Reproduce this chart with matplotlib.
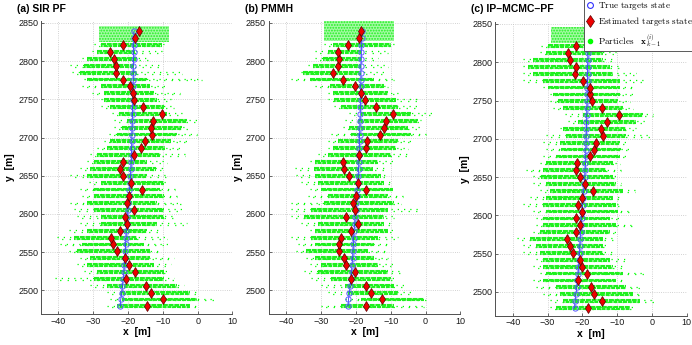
import matplotlib
matplotlib.use("Agg")
import matplotlib.pyplot as plt
from matplotlib.lines import Line2D
from matplotlib.patches import Rectangle
from matplotlib.transforms import ScaledTranslation

plt.rcParams['font.family'] = ['Liberation Sans', 'DejaVu Sans']
plt.rcParams['mathtext.fontset'] = 'cm'
plt.rcParams['hatch.linewidth'] = 0.9

# ---------------- data ----------------
y_rows = [2479, 2488, 2497, 2506, 2515, 2524, 2533, 2542, 2551, 2560, 2569, 2578,
          2587, 2596, 2605, 2614, 2623, 2632, 2641, 2650, 2659, 2668, 2677, 2686,
          2695, 2704, 2713, 2722, 2731, 2740, 2749, 2758, 2767, 2776, 2785, 2794,
          2803, 2812, 2821, 2830, 2839]

true_x = [-22.2, -22.1, -21.8, -21.6, -21.4, -21.2, -21.1, -20.9, -20.8, -20.7, -20.6,
          -20.5, -20.3, -20.2, -20.0, -19.9, -19.7, -19.6, -19.4, -19.3, -19.2, -19.1,
          -19.0, -19.0, -18.9, -18.9, -18.8, -18.8, -18.7, -18.7, -18.6, -18.6, -18.6,
          -18.5, -18.5, -18.5, -18.4, -18.4, -18.4, -18.3, -18.3]

est_a = [-14.5, -10.0, -13.4, -14.7, -20.5, -17.9, -19.8, -21.0, -23.3, -24.3, -24.8,
         -22.2, -20.2, -20.9, -18.4, -20.2, -19.6, -16.0, -19.2, -21.4, -22.2, -21.4,
         -18.3, -16.2, -15.0, -13.2, -13.4, -12.9, -10.3, -15.8, -18.4, -18.7, -19.5,
         -21.4, -23.4, -23.6, -24.1, -25.1, -21.5, -17.9, -16.9]
est_b = [-17.0, -12.5, -15.7, -17.0, -21.5, -20.3, -22.9, -23.5, -24.7, -24.7, -24.2,
         -21.5, -19.5, -22.9, -20.1, -20.9, -20.0, -17.0, -19.4, -22.0, -23.4, -23.7,
         -19.2, -17.1, -16.7, -13.2, -11.9, -11.4, -9.3, -14.3, -17.3, -18.4, -20.1,
         -23.6, -26.5, -25.1, -24.7, -25.0, -22.2, -19.0, -18.4]
est_c = [-18.3, -14.3, -16.5, -17.4, -21.3, -18.7, -20.1, -20.7, -22.7, -23.4, -24.3,
         -21.9, -20.7, -21.7, -20.2, -21.1, -20.0, -17.0, -19.1, -20.7, -21.9, -21.4,
         -17.9, -16.5, -16.1, -14.0, -14.5, -13.0, -9.5, -14.4, -17.2, -17.8, -17.7,
         -19.7, -22.1, -21.8, -23.5, -24.0, -21.7]

# particle clouds per row (rows 2479..2821): dense core and sparse outer extent
core_lo_a = [-23.1, -21.7, -22.2, -26.0, -29.8, -28.9, -31.8, -30.8, -34.6, -33.2, -35.6, -31.8, -27.9,
             -27.9, -29.8, -31.8, -29.8, -29.8, -27.9, -31.8, -31.0, -29.8, -28.9, -26.0, -25.1, -23.1,
             -21.7, -20.3, -22.7, -25.1, -27.0, -27.0, -27.9, -31.8, -33.7, -32.7, -31.8, -28.9, -27.9]
core_hi_a = [-2.1, -0.2, -2.1, -5.9, -9.7, -9.7, -12.6, -13.6, -13.6, -15.5, -17.4, -14.5, -11.6,
             -9.7, -9.7, -11.6, -9.7, -10.7, -9.7, -14.5, -12.0, -14.5, -10.7, -9.3, -7.8, -5.9,
             -4.5, -3.0, -8.8, -9.7, -11.6, -12.6, -13.6, -14.5, -17.4, -18.4, -17.4, -17.9, -10.2]
out_lo_a = [-26.0, -25.1, -26.0, -30.8, -40.9, -32.7, -34.6, -33.7, -37.0, -39.4, -40.4, -37.0, -33.7,
            -34.6, -35.6, -36.6, -33.2, -33.7, -31.3, -36.6, -33.7, -31.8, -30.8, -28.9, -27.0, -25.5,
            -24.1, -24.1, -24.6, -27.9, -27.9, -30.3, -33.2, -32.7, -36.1, -36.6, -33.2, -30.3, -29.8]
out_hi_a = [-0.2, 5.1, -0.2, -4.0, -6.9, -8.8, -7.8, -6.9, -10.7, -8.3, -8.8, -10.7, -3.0,
            -5.9, -4.5, -4.9, -5.9, -6.4, -8.8, -8.8, -10.0, -8.8, -3.5, -4.5, -2.1, -0.2,
            -2.5, -0.2, -4.0, -6.9, -7.8, -5.0, -8.3, 1.3, -4.5, -10.7, -13.6, -10.2, -9.3]

core_lo_b = [-24.2, -18.5, -22.3, -23.2, -27.0, -30.9, -29.9, -31.8, -34.2, -31.8, -32.8, -31.8, -30.9,
             -34.7, -32.8, -29.0, -28.0, -29.9, -30.9, -31.8, -32.0, -31.8, -28.0, -26.6, -25.1, -21.3,
             -21.8, -19.4, -18.5, -24.2, -26.1, -26.6, -27.5, -33.2, -35.1, -32.3, -29.4, -28.0, -26.6]
core_hi_b = [-9.0, -0.4, -8.0, -9.0, -9.9, -10.9, -13.7, -14.7, -16.6, -14.7, -13.7, -10.9, -11.8,
             -11.8, -10.9, -9.0, -10.9, -9.4, -11.8, -12.8, -15.0, -13.7, -9.9, -8.5, -8.0, -4.2,
             -5.1, -2.3, -4.2, -8.0, -8.5, -10.9, -11.8, -14.7, -18.5, -18.5, -18.5, -18.5, -9.9]
out_lo_b = [-30.0, -23.2, -28.0, -29.9, -32.8, -34.7, -33.2, -34.2, -37.0, -36.6, -38.5, -33.2, -35.6,
            -38.5, -38.5, -38.5, -33.7, -33.2, -35.6, -37.0, -37.5, -33.2, -30.9, -28.0, -28.0, -27.0,
            -23.7, -23.2, -21.8, -26.1, -28.0, -28.0, -31.8, -38.5, -35.6, -33.7, -31.8, -31.8, -29.0]
out_hi_b = [-0.4, 0.1, -3.7, -5.1, -8.0, -6.1, -9.0, -10.9, -10.9, -9.9, -8.0, -9.0, -9.0,
            -9.0, -2.3, -7.0, -6.6, -9.0, -9.4, -10.9, -10.9, -9.0, -4.2, -5.1, -3.2, 0.1,
            -1.3, -1.3, 3.0, -2.3, -2.3, -8.0, -10.9, -9.0, -10.9, -10.9, -13.7, -10.9, -8.5]

core_lo_c = [-27.5, -25.5, -26.5, -27.5, -31.3, -30.3, -31.3, -31.3, -32.2, -33.2, -35.1, -32.2, -31.3,
             -31.3, -30.3, -31.3, -30.3, -29.4, -30.3, -31.8, -31.3, -30.3, -27.5, -26.0, -26.5, -24.6,
             -25.5, -21.2, -19.8, -25.5, -27.0, -28.4, -29.8, -31.3, -34.2, -35.6, -34.2, -30.3, -30.0]
core_hi_c = [-6.4, -3.5, -5.4, -7.3, -10.2, -8.3, -11.2, -12.1, -14.0, -14.0, -14.0, -12.1, -10.2,
             -12.1, -9.7, -10.2, -11.2, -8.3, -10.2, -11.2, -13.1, -11.2, -9.3, -8.8, -9.3, -7.3,
             -7.3, -4.5, -2.5, -8.3, -9.7, -9.3, -9.3, -9.3, -11.2, -12.1, -14.0, -14.0, -12.0]
out_lo_c = [-29.4, -29.4, -31.3, -33.2, -34.2, -32.2, -34.2, -33.2, -37.0, -37.0, -38.9, -34.2, -33.2,
            -33.2, -34.2, -37.0, -35.1, -32.2, -34.2, -34.2, -36.1, -32.2, -31.3, -30.3, -31.3, -30.3,
            -26.5, -24.1, -25.1, -28.4, -29.4, -29.4, -31.3, -37.0, -37.0, -37.0, -37.0, -32.2, -32.0]
out_hi_c = [-4.5, 1.3, -2.5, -3.5, -7.3, -1.6, -8.3, -7.3, -10.2, -12.1, -11.2, -9.7, -5.4,
            -9.3, -5.9, -8.3, -9.3, -5.0, -8.8, -10.2, -8.8, -9.3, -7.3, -5.4, -6.4, -0.6,
            -4.5, -1.6, 0.3, -5.4, -6.4, -4.5, -4.5, -2.5, -4.5, -9.3, -11.2, -10.2, -10.0]

# dense block of particles at the start of the track (x range, y range)
blob_a = ((-28.4, -8.3), (2825, 2846))
blob_b = ((-29.0, -9.0), (2826, 2852))
blob_c = ((-28.9, -12.0), (2825, 2846))

titles = ['(a) SIR PF', '(b) PMMH', '(c) IP\u2013MCMC\u2013PF']
x_ticks = [-40, -30, -20, -10, 0, 10]
y_ticks = [2500, 2550, 2600, 2650, 2700, 2750, 2800, 2850]

GREEN = '#00ff00'
CORE = '#1ff01f'

fig = plt.figure(figsize=(6.92, 3.45), dpi=100)
W, H = 692.0, 345.0


def add_ax(left, right, top, bottom):
    return fig.add_axes([left / W, 1 - bottom / H, (right - left) / W, (bottom - top) / H])


def shifted(ax, dy_px):
    return ax.transData + ScaledTranslation(0, dy_px / 100.0, fig.dpi_scale_trans)


axes = [add_ax(41.0, 232.5, 20.7, 314.0),
        add_ax(268.5, 460.5, 20.7, 314.0),
        add_ax(495.3, 686.7, 21.7, 315.7)]

panels = [
    (est_a, core_lo_a, core_hi_a, out_lo_a, out_hi_a, blob_a),
    (est_b, core_lo_b, core_hi_b, out_lo_b, out_hi_b, blob_b),
    (est_c, core_lo_c, core_hi_c, out_lo_c, out_hi_c, blob_c),
]

for ax, title, (est, clo, chi, olo, ohi, blob) in zip(axes, titles, panels):
    rows = y_rows[:len(clo)]
    # sparse outer particles (two staggered dotted strands)
    ax.hlines(rows, olo, ohi, colors=GREEN, linewidth=0.9,
              linestyles=[(0, (1.0, 4.0))], zorder=2, transform=shifted(ax, 0.7))
    ax.hlines(rows, olo, ohi, colors=GREEN, linewidth=0.9,
              linestyles=[(2.3, (1.0, 5.0))], zorder=2, transform=shifted(ax, -0.9))
    # dense core of particles (two speckled strands)
    ax.hlines(rows, clo, chi, colors=CORE, linewidth=1.5,
              linestyles=[(0, (2.4, 0.35))], zorder=2, transform=shifted(ax, 0.9))
    ax.hlines(rows, clo, chi, colors=CORE, linewidth=1.5,
              linestyles=[(1.1, (1.9, 0.4))], zorder=2, transform=shifted(ax, -0.9))
    (bx0, bx1), (by0, by1) = blob
    ax.add_patch(Rectangle((bx0, by0), bx1 - bx0, by1 - by0, facecolor='#a6faa6',
                           edgecolor=CORE, hatch='......', linewidth=0, zorder=2))
    # true target states
    ax.plot(true_x, y_rows, '-', color='#2f2fff', lw=0.6, zorder=3)
    ax.plot(true_x, y_rows, 'o', ms=3.8, mfc='none', mec='#5a5aff', mew=0.7, zorder=4)
    # estimated states
    ax.plot(est, y_rows[:len(est)], 'd', ms=5.0, mfc='#ee0000', mec='#5a0000', mew=0.5, zorder=5)

    ax.set_xlim(-45, 10)
    ax.set_ylim(2469, 2853)
    ax.set_xticks(x_ticks)
    ax.set_yticks(y_ticks)
    ax.grid(True, linestyle=':', color='#c4c4c4', linewidth=0.6)
    ax.set_axisbelow(True)
    for s in ('top', 'right'):
        ax.spines[s].set_visible(False)
    for s in ('left', 'bottom'):
        ax.spines[s].set_color('#505050')
        ax.spines[s].set_linewidth(0.7)
    ax.tick_params(direction='in', length=2.5, width=0.6, colors='#505050',
                   labelsize=6.5, labelcolor='#1a1a1a', pad=2)
    ax.set_xlabel('x  [m]', fontsize=7.5, fontweight='bold', labelpad=1)
    ax.set_ylabel('y  [m]', fontsize=7.5, fontweight='bold', labelpad=2)
    bb = ax.get_position()
    fig.text(bb.x0 - 24 / W, 1 - 9.5 / H, title, fontsize=7.5, fontweight='bold',
             ha='left', va='center')

handles = [Line2D([], [], ls='none', marker='o', ms=4.2, mfc='none', mec='#3030ff', mew=0.8),
           Line2D([], [], ls='none', marker='d', ms=6.0, mfc='#ee0000', mec='#5a0000', mew=0.5),
           Line2D([], [], ls='none', marker='o', ms=3.0, mfc=GREEN, mec=GREEN)]
labels = [r'$\mathrm{True\ targets\ state}$',
          r'$\mathrm{Estimated\ targets\ state}$',
          r'$\mathrm{Particles}\quad\mathbf{x}_{k-1}^{(i)}$']
leg = fig.legend(handles, labels, loc='upper left', bbox_to_anchor=(584 / W, 1 + 3 / H),
                 fontsize=6.6, frameon=True, fancybox=False, framealpha=1,
                 edgecolor='#404040', borderaxespad=0, borderpad=0.3,
                 handlelength=0.6, handletextpad=0.6, labelspacing=0.4)
leg.get_frame().set_linewidth(0.6)

fig.savefig('out.png', dpi=100)
